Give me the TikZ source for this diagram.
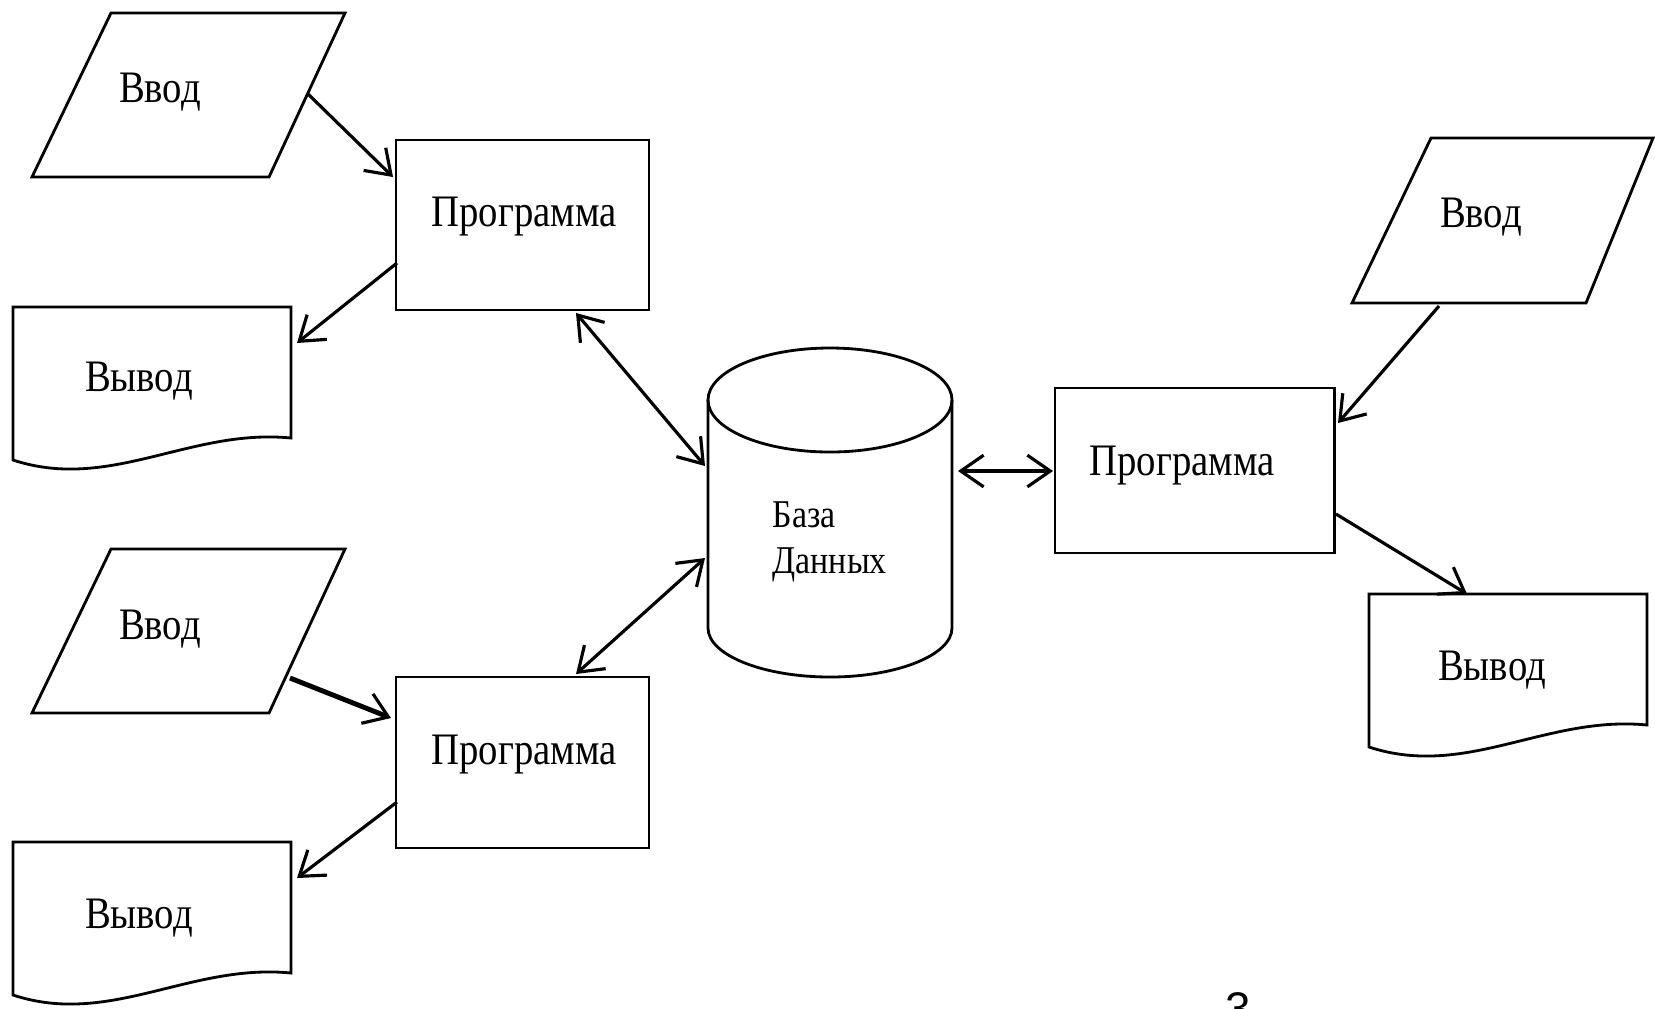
\documentclass[tikz,border=0pt]{standalone}
\usepackage{fontspec}
\setmainfont{Liberation Serif}
\newfontfamily\lblfont[FakeStretch=0.86]{Liberation Serif}
\newfontfamily\numfont{Liberation Sans}
\usetikzlibrary{arrows.meta}
\tikzset{barb/.tip={Straight Barb[length=6.5pt,width=9pt,line width=0.9pt]}}
\begin{document}
\begin{tikzpicture}[x=0.01cm,y=-0.01cm,
  outline/.style={line width=0.8pt, line join=miter},
  pbox/.style={draw, outline, inner sep=0pt},
  conn/.style={line width=0.9pt, -{barb}},
  biconn/.style={line width=0.9pt, {barb}-{barb}},
  lbl/.style={font=\lblfont\fontsize{12.8}{15}\selectfont, inner sep=0pt, anchor=base},
  dblbl/.style={font=\lblfont\fontsize{11.2}{13}\selectfont, inner sep=0pt, anchor=base west},
  docpic/.pic={\draw[outline] (0,0) -- (278,0) -- (278,131)
      .. controls (177,121) and (97,185) .. (0,153) -- cycle;}
]
\useasboundingbox (0,0) rectangle (1655,1008);

% ---------- input parallelograms ----------
\draw[outline] (111,13) -- (345,13) -- (269,177) -- (32,177) -- cycle;
\node[lbl] (in1) at (160,102) {Ввод};
\draw[outline] (111,549) -- (345,549) -- (269,713) -- (32,713) -- cycle;
\node[lbl] (in2) at (160,639) {Ввод};
\draw[outline] (1431,138) -- (1653,138) -- (1586,303) -- (1352,303) -- cycle;
\node[lbl] (in3) at (1481,227) {Ввод};

% ---------- programs ----------
\node[pbox, minimum width=2.53cm, minimum height=1.70cm] (p1) at (522.5,225) {};
\node[lbl] (p1t) at (524,226) {Программа};
\node[pbox, minimum width=2.53cm, minimum height=1.71cm] (p2) at (522.5,762.5) {};
\node[lbl] (p2t) at (524,764) {Программа};
\node[pbox, minimum width=2.79cm, minimum height=1.65cm] (p3) at (1194.5,470.5) {};
\node[lbl] (p3t) at (1182,475) {Программа};

% ---------- outputs (documents) ----------
\pic at (13,307) {docpic};
\node[lbl] (out1) at (139,391) {Вывод};
\pic at (13,842) {docpic};
\node[lbl] (out2) at (139,928) {Вывод};
\pic at (1369,594) {docpic};
\node[lbl] (out3) at (1492,680) {Вывод};

% ---------- database cylinder ----------
\draw[outline] (708,400) -- (708,628)
  .. controls (708,655) and (763,677) .. (830,677)
  .. controls (897,677) and (952,655) .. (952,628) -- (952,400);
\draw[outline] (830,400) ellipse [x radius=122, y radius=52];
\node[dblbl] (db1) at (772,527) {База};
\node[dblbl] (db2) at (772,573) {Данных};

% ---------- connector end points ----------
\coordinate (a1s) at (308,94);   \coordinate (a1e) at (393,177);
\coordinate (a2s) at (397,263);  \coordinate (a2e) at (297,343);
\coordinate (a3s) at (576,313);  \coordinate (a3e) at (705,466);
\coordinate (a4s) at (958,471);  \coordinate (a4e) at (1053,471);
\coordinate (a5s) at (1439,306); \coordinate (a5e) at (1338,423);
\coordinate (a6s) at (1336,514); \coordinate (a6e) at (1467,594);
\coordinate (a7s) at (290,678);  \coordinate (a7e) at (391,718);
\coordinate (a8s) at (397,802);  \coordinate (a8e) at (297,878);
\coordinate (a9s) at (705,558);  \coordinate (a9e) at (576,674);

\draw[conn] (a1s) -- (a1e);
\draw[conn] (a2s) -- (a2e);
\draw[biconn] (a3s) -- (a3e);
\draw[biconn] (a4s) -- (a4e);
\draw[conn] (a5s) -- (a5e);
\draw[conn] (a6s) -- (a6e);
\draw[conn, line width=1.4pt] (a7s) -- (a7e);
\draw[conn] (a8s) -- (a8e);
\draw[biconn] (a9s) -- (a9e);

% ---------- page number (cut off at the lower edge, as in the reference) ----------
\node[font=\numfont\fontsize{13}{15}\selectfont, inner sep=0pt, anchor=base] (pg) at (1238,1024) {3};
\end{tikzpicture}
\end{document}
